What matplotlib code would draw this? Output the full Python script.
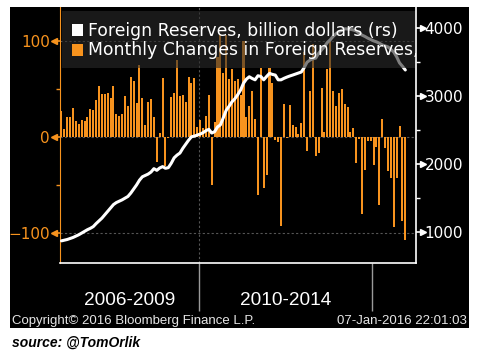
import numpy as np
import matplotlib
matplotlib.use("Agg")
import matplotlib.pyplot as plt
from matplotlib.patches import Rectangle
from matplotlib.transforms import blended_transform_factory

plt.rcParams['font.family'] = ['Liberation Sans', 'DejaVu Sans']

# monthly change in China's FX reserves, Jan 2006 - Dec 2015 (bn USD, left axis)
monthly_change = [
    27, 8, 21, 20, 30, 16, 13, 17, 16, 21, 29, 28,            # 2006
    38, 53, 44, 44, 46, 40, 53, 24, 22, 24, 42, 32,           # 2007
    62, 58, 35, 75, 40, 12, 36, 39, 21, -26, 4, 61,           # 2008
    -31, -1, 41, 46, 80, 42, 43, 36, 62, 56, 61, 10,          # 2009
    17, 9, 22, 43, -50, 15, 83, 106, 66, 106, 60, 71,         # 2010
    58, 60, 43, 100, 20, 32, 48, 18, -61, 72, -53, -40,       # 2011
    72, 56, -3, -6, -93, 34, -1, 33, 12, 10, 3, 14,           # 2012
    88, -15, 48, 97, -20, -17, 51, 5, 70, 102, 48, 32,        # 2013
    45, 50, 34, 31, 5, 9, -27, -2, -81, -35, -5, -4,          # 2014
    -30, -11, -71, 18, -12, -36, -43, -94, -43, 11, -88, -108,  # 2015
]

# foreign reserves level (bn USD, right axis)
reserves = [
    865, 875, 885, 900, 915, 935, 955, 980, 1005, 1030, 1050, 1075,
    1120, 1160, 1200, 1250, 1300, 1350, 1400, 1430, 1450, 1470, 1495, 1520,
    1570, 1630, 1690, 1760, 1810, 1830, 1850, 1880, 1930, 1905, 1940, 1960,
    1935, 1945, 2010, 2090, 2130, 2160, 2230, 2290, 2350, 2400, 2410, 2425,
    2440, 2460, 2490, 2510, 2455, 2475, 2545, 2575, 2680, 2790, 2850, 2915,
    2960, 3020, 3090, 3190, 3250, 3285, 3260, 3240, 3300, 3290, 3240, 3290,
    3335, 3320, 3310, 3240, 3240, 3262, 3280, 3296, 3310, 3325, 3340, 3355,
    3420, 3500, 3530, 3550, 3560, 3630, 3680, 3730, 3790, 3830, 3880, 3920,
    3950, 3970, 3993, 3990, 3985, 3975, 3960, 3930, 3900, 3880, 3855, 3835,
    3815, 3800, 3780, 3755, 3740, 3725, 3690, 3650, 3580, 3490, 3440, 3385,
]

period_labels = ['2006-2009', '2010-2014']
period_bounds = [-0.5, 47.5, 107.5]   # month index where each period starts

left_ticks = [-100, 0, 100]
right_ticks = [1000, 2000, 3000, 4000]

ORANGE = '#f7931e'
W, H = 492, 357
UI_FONT = ['DejaVu Sans']

x = np.arange(len(monthly_change))

fig = plt.figure(figsize=(W / 100, H / 100), dpi=100)
fig.patch.set_facecolor('white')

# black Bloomberg panel
fig.patches.append(Rectangle((10 / W, 1 - 328.3 / H), 459 / W, 321.3 / H,
                             transform=fig.transFigure, facecolor='black', zorder=-1))

ax = fig.add_axes([60.3 / W, 1 - 263.3 / H, 356 / W, 256.3 / H])
ax.set_facecolor('black')
ax.set_axisbelow(True)
ax.bar(x, monthly_change, width=0.7, color=ORANGE, zorder=2)
ax.set_xlim(-0.4, 122.8)
ax.set_ylim(-131.9, 135.1)

ax.set_yticks(left_ticks)
ax.set_yticks([-50, 50], minor=True)
ax.yaxis.grid(True, color='#555555', linestyle=(0, (2, 2)), linewidth=0.8)
ax.axvline(period_bounds[1], color='#555555', linestyle=(0, (2, 2)), linewidth=0.8, zorder=0.5)
ax.tick_params(axis='y', which='major', colors=ORANGE, labelsize=11, length=5, width=1.2, pad=2.5)
ax.tick_params(axis='y', which='minor', colors=ORANGE, length=3, width=1)
for lbl in ax.get_yticklabels():
    lbl.set_family(UI_FONT)

# x axis: long separators between periods, labels centred in each period
ax.set_xticks(period_bounds[1:])
ax.set_xticklabels(['', ''])
ax.tick_params(axis='x', which='major', colors='#9a9a9a', length=34.5, width=1)
centres = [(period_bounds[i] + period_bounds[i + 1]) / 2 for i in range(2)]
ax.set_xticks(centres, minor=True)
ax.set_xticklabels(period_labels, minor=True)
ax.tick_params(axis='x', which='minor', length=0, labelsize=13.7, labelcolor='white', pad=21)

for side in ['top', 'right']:
    ax.spines[side].set_visible(False)
ax.spines['left'].set_color(ORANGE)
ax.spines['bottom'].set_color('white')
ax.spines['bottom'].set_linewidth(1.2)

# small triangles at the left tick ends
trans_l = blended_transform_factory(ax.transAxes, ax.transData)
ax.plot([-0.019] * 3, left_ticks, marker='<', ms=4, ls='none', color=ORANGE,
        transform=trans_l, clip_on=False)

ax2 = ax.twinx()
ax2.plot(x, reserves, color='white', lw=2.2, zorder=3, solid_capstyle='round')
ax2.set_ylim(534, 4314)
ax2.set_yticks(right_ticks)
ax2.set_yticks([1500, 2500, 3500], minor=True)
ax2.tick_params(axis='y', which='major', colors='white', labelsize=11, length=5, width=1.2, pad=1)
ax2.tick_params(axis='y', which='minor', colors='white', length=3, width=1)
for lbl in ax2.get_yticklabels():
    lbl.set_family(UI_FONT)
for side in ['top', 'left', 'bottom']:
    ax2.spines[side].set_visible(False)
ax2.spines['right'].set_color('white')
ax2.spines['right'].set_linewidth(1.2)
trans_r = blended_transform_factory(ax2.transAxes, ax2.transData)
ax2.plot([1.019] * 4, right_ticks, marker='>', ms=4, ls='none', color='white',
         transform=trans_r, clip_on=False)

# legend box (semi transparent, drawn over the series); the long label is
# cut off at the right spine, as in the original terminal chart
ax2.add_patch(Rectangle((0.005, 0.762), 0.991, 0.222, transform=ax2.transAxes,
                        facecolor='#2a2a2a', alpha=0.6, edgecolor='none', zorder=4))
ax2.add_patch(Rectangle((0.033, 0.887), 0.031, 0.047, transform=ax2.transAxes,
                        facecolor='white', edgecolor='none', zorder=5))
ax2.add_patch(Rectangle((0.033, 0.809), 0.031, 0.047, transform=ax2.transAxes,
                        facecolor=ORANGE, edgecolor='none', zorder=5))
ax2.text(0.078, 0.908, 'Foreign Reserves, billion dollars (rs)', transform=ax2.transAxes,
         color='white', fontsize=12.4, family=UI_FONT, va='center', zorder=6, clip_on=True)
ax2.text(0.078, 0.832, 'Monthly Changes in Foreign Reserves, billion dollars',
         transform=ax2.transAxes, color='white', fontsize=12.4, family=UI_FONT,
         va='center', zorder=6, clip_on=True)

fig.text(12 / W, 1 - 320.7 / H, 'Copyright\u00a9 2016 Bloomberg Finance L.P.',
         color='#e6e6e6', fontsize=9.5, va='center')
fig.text(467 / W, 1 - 320.7 / H, '07-Jan-2016 22:01:03', color='#e6e6e6',
         fontsize=9.5, va='center', ha='right')
fig.text(12 / W, 1 - 343 / H, 'source: @TomOrlik', color='black', fontsize=10,
         fontweight='bold', style='italic', va='center')

fig.savefig('out.png', dpi=100, facecolor=fig.get_facecolor())
